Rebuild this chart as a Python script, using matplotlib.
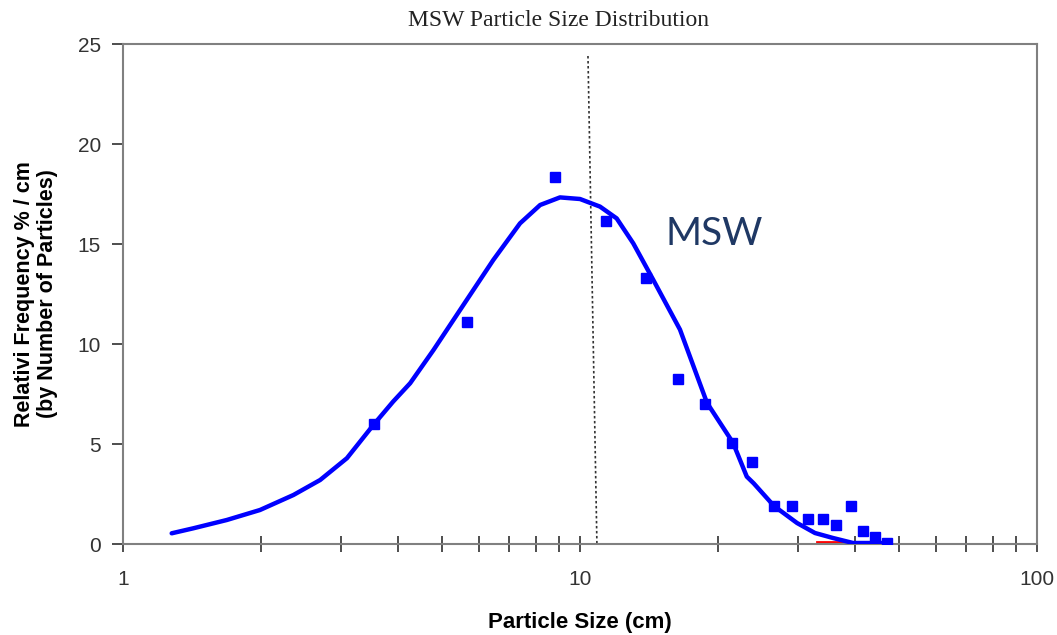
import matplotlib
matplotlib.use("Agg")
import matplotlib.pyplot as plt
from matplotlib.ticker import LogLocator, NullFormatter, FixedLocator, FixedFormatter

# ---- data ----
curve_x = [1.278, 1.425, 1.687, 1.994, 2.36, 2.70, 3.09, 3.53, 3.90, 4.25, 4.78,
           5.65, 6.46, 7.39, 8.18, 9.04, 10.0, 11.06, 12.03, 13.08, 14.47, 16.55,
           18.96, 21.62, 23.17, 24.0, 26.58, 29.85, 32.67, 35.78, 39.58, 46.97]
curve_y = [0.535, 0.785, 1.20, 1.70, 2.45, 3.20, 4.29, 5.95, 7.12, 8.04, 9.70,
           12.2, 14.2, 16.03, 16.95, 17.33, 17.25, 16.87, 16.28, 15.03, 13.2, 10.72,
           7.06, 5.06, 3.37, 3.03, 1.90, 1.05, 0.55, 0.30, 0.05, 0.05]

pts_x = [3.54, 5.66, 8.82, 11.40, 13.95, 16.38, 18.77, 21.51, 23.79, 26.58, 29.10,
         31.55, 34.01, 36.33, 39.18, 41.63, 44.21, 46.97]
pts_y = [6.01, 11.12, 18.34, 16.13, 13.28, 8.27, 7.01, 5.06, 4.11, 1.90, 1.90,
         1.25, 1.25, 0.95, 1.90, 0.65, 0.35, 0.05]

red_x = [33.0, 40.0]
red_y = [0.08, 0.08]

ref_x = [10.41, 10.89]
ref_y = [24.4, 0.0]

x_ticks = [1, 10, 100]
x_ticklabels = ["1", "10", "100"]
y_ticks = [0, 5, 10, 15, 20, 25]

title = "MSW Particle Size Distribution"
xlabel = "Particle Size (cm)"
ylabel = "Relativi Frequency % / cm\n(by Number of Particles)"
annot = "MSW"

# ---- figure ----
fig = plt.figure(figsize=(10.57, 6.35), dpi=100)
ax = fig.add_axes([123/1057, 91/635, 914/1057, 500/635])

ax.plot(ref_x, ref_y, color="#333333", lw=1.2, ls=(0, (1.5, 1.5)), zorder=1)
ax.plot(red_x, red_y, color="red", lw=2, zorder=2)
ax.plot(curve_x, curve_y, color="#0000FF", lw=3.2, solid_capstyle="round",
        solid_joinstyle="round", zorder=3)
ax.plot(pts_x, pts_y, ls="none", marker="s", ms=6.8, color="#0000FF",
        mec="#0000FF", zorder=4)

ax.set_xscale("log")
ax.set_xlim(1, 100)
ax.set_ylim(0, 25)

ax.xaxis.set_major_locator(FixedLocator(x_ticks))
ax.xaxis.set_major_formatter(FixedFormatter(x_ticklabels))
ax.xaxis.set_minor_locator(LogLocator(base=10, subs=range(2, 10)))
ax.xaxis.set_minor_formatter(NullFormatter())
ax.set_yticks(y_ticks)

for s in ax.spines.values():
    s.set_color("#808080")
    s.set_linewidth(1.5)

ax.tick_params(axis="x", which="both", direction="inout", length=12, width=1.3,
               color="#404040", labelsize=15, labelcolor="#333333", pad=13)
ax.tick_params(axis="y", which="both", direction="out", length=8, width=1.3,
               color="#404040", labelsize=15, labelcolor="#333333", pad=8)
for lab in ax.get_xticklabels() + ax.get_yticklabels():
    lab.set_family("Liberation Sans")

ax.set_xlabel(xlabel, fontsize=16, fontweight="bold", family="Liberation Sans",
              labelpad=16)
ax.set_ylabel(ylabel, fontsize=15.5, fontweight="bold", family="Liberation Sans",
              labelpad=14, linespacing=1.1)

fig.text(558/1057, 1 - 20/635, title, ha="center", va="center", fontsize=17,
         family="Liberation Serif", color="#222222")

ax.text(19.7, 15.5, annot, ha="center", va="center", fontsize=28,
        family="Lato", color="#1F3864")

fig.savefig("out.png", dpi=100)
